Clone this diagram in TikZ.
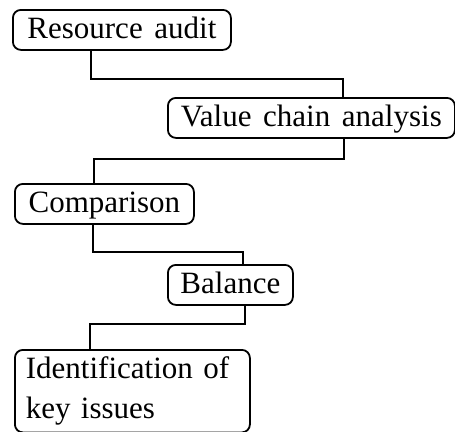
\documentclass[tikz,border=0pt]{standalone}
\usepackage{fontspec}
\setmainfont[WordSpace=1.5]{Liberation Serif}
\begin{document}
\begin{tikzpicture}[x=1pt,y=-1pt,
  stage/.style={draw, line width=1.8pt, rounded corners=8pt, anchor=north west,
    font=\fontsize{31}{40}\selectfont, inner xsep=12pt, inner ysep=6pt,
    text height=23pt, text depth=5pt},
  multistage/.style={draw, line width=1.8pt, rounded corners=8pt, anchor=north west,
    font=\fontsize{31}{40}\selectfont, inner xsep=11pt, inner ysep=7pt, align=left},
  link/.style={line width=1.8pt}]
  \useasboundingbox (0,0) rectangle (455,431);

  % stages of the analysis
  \node[stage, minimum width=218pt] (b1) at (12,9) {Resource audit};
  \node[stage, minimum width=287pt] (b2) at (167,97) {Value chain analysis};
  \node[stage, minimum width=179pt] (b3) at (14,183) {Comparison};
  \node[stage, minimum width=125pt] (b4) at (167,264) {Balance};
  \node[multistage, text width=213pt] (b5) at (14,349) {Identification of\\key issues};

  % stepped connectors between stages
  \draw[link] ([xshift=79pt]b1.south west) |- ([xshift=176pt,yshift=18pt]b2.north west)
              -- ([xshift=176pt]b2.north west);
  \draw[link] ([xshift=177pt]b2.south west) |- ([xshift=80pt,yshift=24pt]b3.north west)
              -- ([xshift=80pt]b3.north west);
  \draw[link] ([xshift=79pt]b3.south west) |- ([xshift=76pt,yshift=12pt]b4.north west)
              -- ([xshift=76pt]b4.north west);
  \draw[link] ([xshift=78pt]b4.south west) |- ([xshift=76pt,yshift=25pt]b5.north west)
              -- ([xshift=76pt]b5.north west);
\end{tikzpicture}
\end{document}
